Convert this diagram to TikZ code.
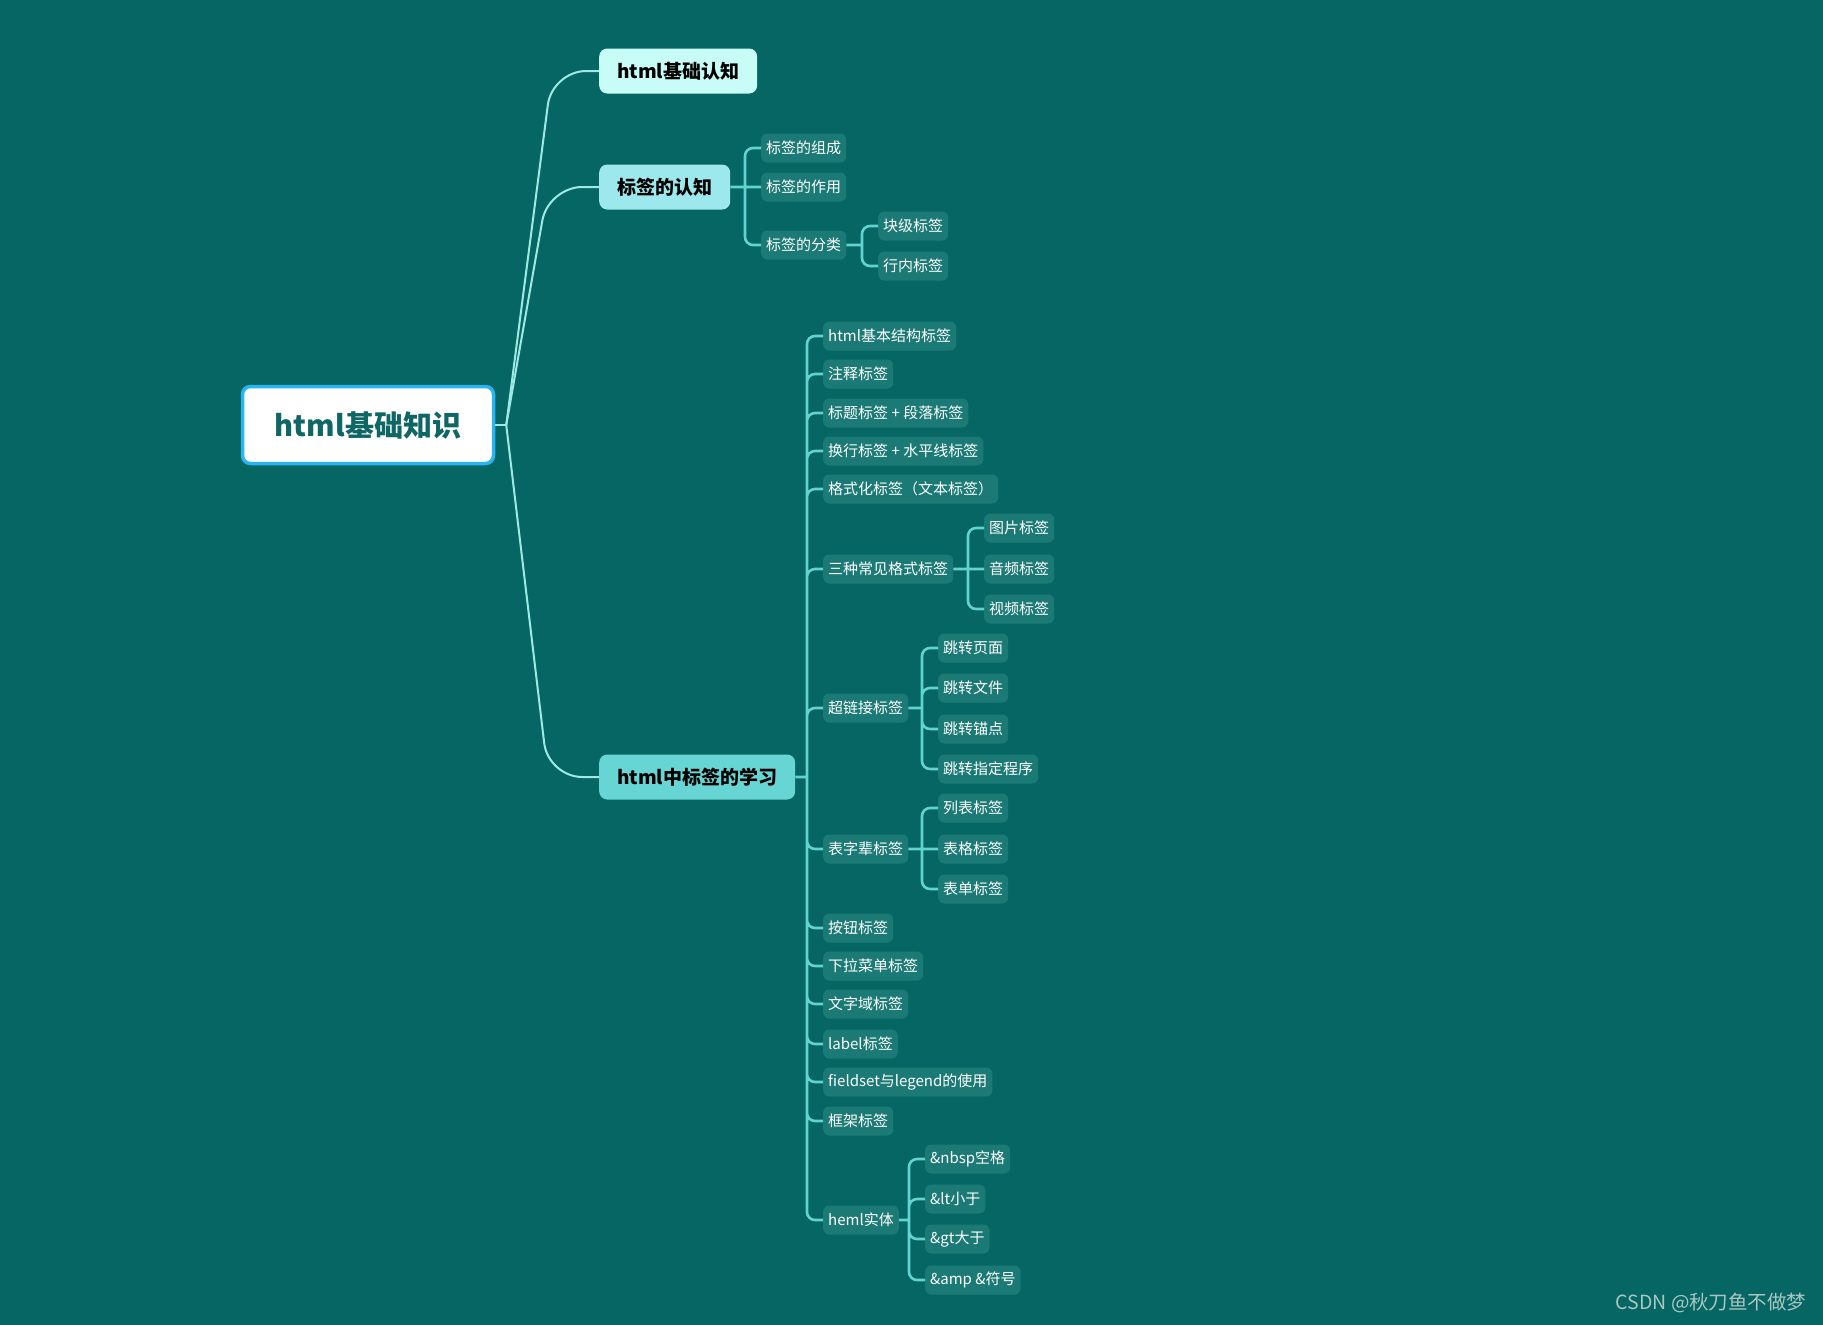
\documentclass[tikz,border=0pt]{standalone}
\usepackage{fontspec}
\setmainfont{Noto Sans CJK SC}
\usepackage{xcolor}
\usetikzlibrary{calc}

\definecolor{bgteal}{HTML}{056663}
\definecolor{leaffill}{HTML}{1B7A75}
\definecolor{linecyan}{HTML}{62D3CF}
\definecolor{rootline}{HTML}{9FE9E4}
\definecolor{rootblue}{HTML}{2BB5EE}
\definecolor{roottext}{HTML}{0E6764}
\definecolor{topa}{HTML}{C8FCF7}
\definecolor{topb}{HTML}{9DE8EC}
\definecolor{topc}{HTML}{67D5D3}
\definecolor{markgray}{HTML}{A9C6C3}

\tikzset{
  rootbox/.style={draw=rootblue, line width=3.5pt, fill=white, rounded corners=8pt,
    minimum width=251pt, minimum height=77pt, font=\fontsize{29}{34}\selectfont\bfseries, text=roottext},
  topbox/.style={rounded corners=8pt, minimum height=45pt, inner xsep=18pt,
    font=\fontsize{19}{22}\selectfont\bfseries, text=black, anchor=west},
  leaf/.style={fill=leaffill, rounded corners=6pt, minimum height=29pt, inner xsep=5pt,
    font=\fontsize{15}{18}\selectfont, text=white, anchor=west},
  branch/.style={draw=linecyan, line width=2.6pt, rounded corners=8pt},
  trunk/.style={draw=rootline, line width=2pt, rounded corners=34pt},
}

\begin{document}
\begin{tikzpicture}[x=1pt,y=-1pt]
	\fill[bgteal] (0,0) rectangle (1823,1325);
	\useasboundingbox (0,0) rectangle (1823,1325);

	% root and first level
	\node[rootbox] (root) at (368,425) {html基础知识};
	\node[topbox, fill=topa] (basic) at (599,71) {html基础认知};
	\node[topbox, fill=topb] (tagidea) at (599,187) {标签的认知};
	\node[topbox, fill=topc] (tagstudy) at (599,777) {html中标签的学习};

	% 标签的认知
	\node[leaf] (parts) at (761,148) {标签的组成};
	\node[leaf] (usage) at (761,187) {标签的作用};
	\node[leaf] (kinds) at (761,245) {标签的分类};
	\node[leaf] (block) at (878,226) {块级标签};
	\node[leaf] (inline) at (878,266) {行内标签};

	% html中标签的学习
	\node[leaf] (skeleton) at (823,336) {html基本结构标签};
	\node[leaf] (comment) at (823,374) {注释标签};
	\node[leaf] (heading) at (823,413) {标题标签 + 段落标签};
	\node[leaf] (linebreak) at (823,451) {换行标签 + 水平线标签};
	\node[leaf] (format) at (823,489) {格式化标签（文本标签）};
	\node[leaf] (media) at (823,569) {三种常见格式标签};
	\node[leaf] (link) at (823,708) {超链接标签};
	\node[leaf] (table) at (823,849) {表字辈标签};
	\node[leaf] (button) at (823,928) {按钮标签};
	\node[leaf] (select) at (823,966) {下拉菜单标签};
	\node[leaf] (textarea) at (823,1004) {文字域标签};
	\node[leaf] (label) at (823,1044) {label标签};
	\node[leaf] (fieldset) at (823,1082) {fieldset与legend的使用};
	\node[leaf] (frame) at (823,1121) {框架标签};
	\node[leaf] (entity) at (823,1220) {heml实体};

	\node[leaf] (image) at (984,528) {图片标签};
	\node[leaf] (audio) at (984,569) {音频标签};
	\node[leaf] (video) at (984,609) {视频标签};

	\node[leaf] (topage) at (938,648) {跳转页面};
	\node[leaf] (tofile) at (938,688) {跳转文件};
	\node[leaf] (toanchor) at (938,729) {跳转锚点};
	\node[leaf] (toprog) at (938,769) {跳转指定程序};

	\node[leaf] (list) at (938,808) {列表标签};
	\node[leaf] (grid) at (938,849) {表格标签};
	\node[leaf] (form) at (938,889) {表单标签};

	\node[leaf] (nbsp) at (925,1159) {\&nbsp空格};
	\node[leaf] (lt) at (925,1199) {\&lt小于};
	\node[leaf] (gt) at (925,1239) {\&gt大于};
	\node[leaf] (amp) at (925,1280) {\&amp \&符号};

	% junctions
	\coordinate (jroot) at ($(root.east)+(11,0)$);
	\coordinate (jidea) at ($(parts.west |- tagidea.east)+(-16,0)$);
	\coordinate (jkinds) at ($(block.west |- kinds.east)+(-16,0)$);
	\coordinate (jstudy) at ($(skeleton.west |- tagstudy.east)+(-16,0)$);
	\coordinate (jmedia) at ($(image.west |- media.east)+(-16,0)$);
	\coordinate (jlink) at ($(topage.west |- link.east)+(-16,0)$);
	\coordinate (jtable) at ($(list.west |- table.east)+(-16,0)$);
	\coordinate (jentity) at ($(nbsp.west |- entity.east)+(-16,0)$);

	% connectors from root
	\draw[rootline, line width=2pt] (root.east) -- (jroot);
	\draw[trunk] (jroot) -- ($(jroot |- basic.west)+(46,0)$) -- (basic.west);
	\draw[trunk] (jroot) -- ($(jroot |- tagidea.west)+(42,0)$) -- (tagidea.west);
	\draw[trunk] (jroot) -- ($(jroot |- tagstudy.west)+(42,0)$) -- (tagstudy.west);

	% brackets
	\draw[branch] (tagidea.east) -- (jidea) (jidea) -- (usage.west)
		(jidea) |- (parts.west) (jidea) |- (kinds.west);
	\draw[branch] (kinds.east) -- (jkinds) (jkinds) |- (block.west) (jkinds) |- (inline.west);
	\draw[branch] (tagstudy.east) -- (jstudy)
		(jstudy) |- (skeleton.west) (jstudy) |- (comment.west) (jstudy) |- (heading.west)
		(jstudy) |- (linebreak.west) (jstudy) |- (format.west) (jstudy) |- (media.west)
		(jstudy) |- (link.west) (jstudy) |- (table.west) (jstudy) |- (button.west)
		(jstudy) |- (select.west) (jstudy) |- (textarea.west) (jstudy) |- (label.west)
		(jstudy) |- (fieldset.west) (jstudy) |- (frame.west) (jstudy) |- (entity.west);
	\draw[branch] (media.east) -- (jmedia) (jmedia) -- (audio.west)
		(jmedia) |- (image.west) (jmedia) |- (video.west);
	\draw[branch] (link.east) -- (jlink) (jlink) |- (topage.west) (jlink) |- (tofile.west)
		(jlink) |- (toanchor.west) (jlink) |- (toprog.west);
	\draw[branch] (table.east) -- (jtable) (jtable) -- (grid.west)
		(jtable) |- (list.west) (jtable) |- (form.west);
	\draw[branch] (entity.east) -- (jentity) (jentity) |- (nbsp.west) (jentity) |- (lt.west)
		(jentity) |- (gt.west) (jentity) |- (amp.west);

	\node[anchor=east, text=markgray, font=\fontsize{19.5}{22}\selectfont] (mark) at (1810,1303) {CSDN @秋刀鱼不做梦};
\end{tikzpicture}
\end{document}
